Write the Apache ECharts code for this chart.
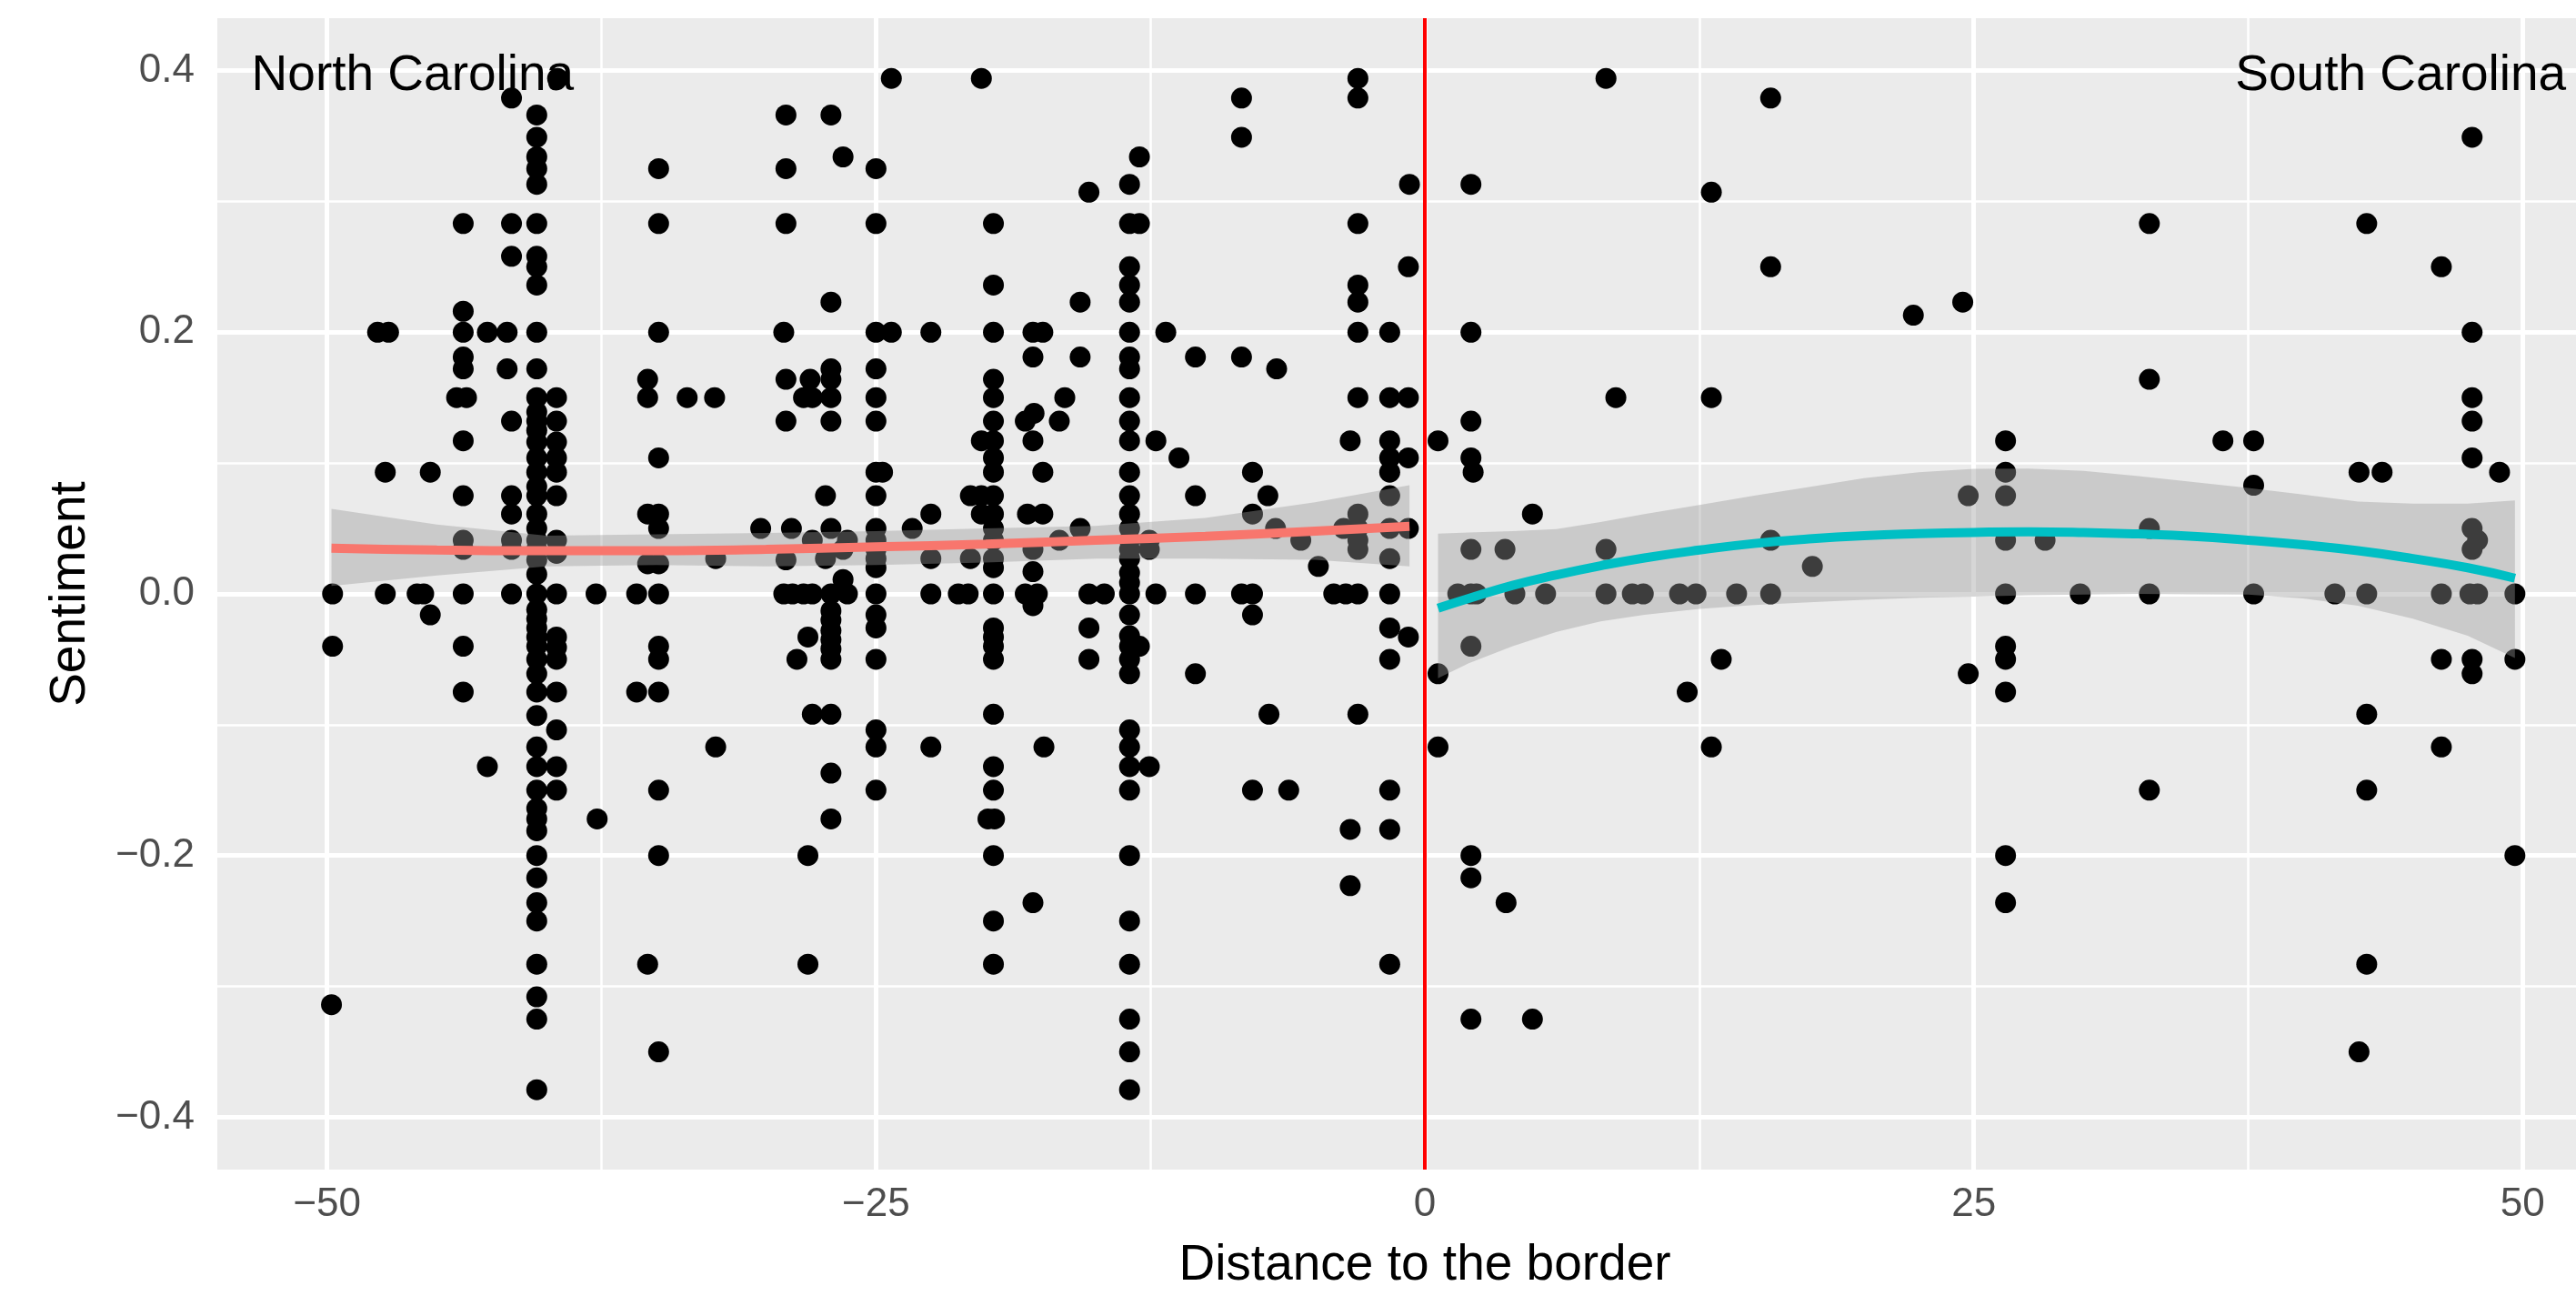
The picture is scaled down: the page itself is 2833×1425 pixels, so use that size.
<!DOCTYPE html>
<html>
<head>
<meta charset="utf-8">
<script src="https://cdn.jsdelivr.net/npm/echarts@6/dist/echarts.min.js"></script>
<style>
html,body{margin:0;padding:0;background:#fff;}
#chart{width:2833px;height:1425px;}
</style>
</head>
<body>
<div id="chart"></div>
<script>
// ---- axis ticks ----
const xMajor = [-50, -25, 0, 25, 50];
const xMinor = [-37.5, -12.5, 12.5, 37.5];
const yMajor = [-0.4, -0.2, 0, 0.2, 0.4];
const yMinor = [-0.3, -0.1, 0.1, 0.3];
const borderX = [0];

// ---- annotations ----
const annotations = [[-46.1, 0.4, 'North Carolina'], [44.45, 0.4, 'South Carolina']];

// ---- North Carolina observations (distance, sentiment) ----
const ncPoints = [
[-39.5,0.394],[-41.6,0.379],[-40.45,0.366],[-40.45,0.349],[-40.45,0.334],[-40.45,0.325],[-40.45,0.313],[-34.9,0.325],[-29.1,0.366],[-29.1,0.325],
[-43.8,0.283],[-41.6,0.283],[-40.45,0.283],[-34.9,0.283],[-29.1,0.283],[-41.6,0.258],[-40.45,0.258],[-40.45,0.25],[-40.45,0.236],[-43.8,0.216],
[-47.7,0.2],[-47.2,0.2],[-43.8,0.2],[-42.7,0.2],[-41.8,0.2],[-40.45,0.2],[-34.9,0.2],[-29.2,0.2],
[-43.8,0.181],[-43.8,0.172],[-41.8,0.172],[-40.45,0.172],[-35.4,0.164],[-29.1,0.164],[-28.0,0.164],
[-44.1,0.15],[-43.65,0.15],[-40.45,0.15],[-39.55,0.15],[-35.4,0.15],[-33.6,0.15],[-32.35,0.15],[-28.3,0.15],[-27.9,0.15],
[-41.6,0.132],[-40.45,0.139],[-40.45,0.132],[-40.45,0.125],[-40.45,0.116],[-40.45,0.104],[-40.45,0.093],[-40.45,0.082],[-40.45,0.075],[-40.45,0.061],[-40.45,0.05],[-40.45,0.041],[-40.45,0.034],[-40.45,0.026],[-40.45,0.015],
[-39.55,0.132],[-39.55,0.116],[-39.55,0.104],[-39.55,0.093],[-39.55,0.075],[-39.55,0.041],[-39.55,0.031],
[-43.8,0.117],[-29.1,0.132],[-34.9,0.104],[-47.35,0.093],[-45.3,0.093],[-43.8,0.075],[-41.6,0.075],[-41.6,0.061],[-43.8,0.041],[-43.8,0.034],[-41.6,0.041],[-41.6,0.034],
[-35.4,0.061],[-34.9,0.061],[-34.9,0.05],[-35.4,0.023],[-34.9,0.023],[-32.3,0.027],[-30.25,0.05],[-28.85,0.05],[-29.1,0.026],[-27.9,0.041],
[-49.75,0],[-47.35,0],[-45.9,0],[-45.6,0],[-43.8,0],[-41.6,0],[-40.45,0],[-39.55,0],[-37.75,0],[-35.9,0],[-34.9,0],[-29.2,0],[-28.8,0],[-28.3,0],[-27.9,0],
[-45.3,-0.016],[-40.45,-0.012],[-40.45,-0.019],[-40.45,-0.026],[-40.45,-0.033],[-40.45,-0.04],[-40.45,-0.05],[-39.55,-0.033],[-39.55,-0.041],[-39.55,-0.05],
[-49.75,-0.04],[-43.8,-0.04],[-34.9,-0.04],[-34.9,-0.05],[-28.6,-0.05],[-28.1,-0.033],[-40.45,-0.061],[-43.8,-0.075],[-40.45,-0.075],[-39.55,-0.075],[-35.9,-0.075],[-34.9,-0.075],
[-40.45,-0.093],[-39.55,-0.104],[-32.3,-0.117],[-40.45,-0.117],[-42.7,-0.132],[-40.45,-0.132],[-39.55,-0.132],[-40.45,-0.15],[-39.55,-0.15],[-34.9,-0.15],
[-40.45,-0.164],[-40.45,-0.172],[-40.45,-0.181],[-37.7,-0.172],[-40.45,-0.2],[-34.9,-0.2],[-40.45,-0.217],[-40.45,-0.236],[-40.45,-0.25],[-40.45,-0.283],[-35.4,-0.283],
[-49.8,-0.314],[-40.45,-0.308],[-40.45,-0.325],[-34.9,-0.35],[-40.45,-0.379],
[-24.3,0.394],[-20.2,0.394],[-27.05,0.366],[-26.5,0.334],[-25,0.325],[-8.35,0.379],[-8.35,0.349],[-3.05,0.394],[-3.05,0.379],[-13,0.334],[-13.45,0.313],[-15.3,0.307],[-0.7,0.313],
[-25,0.283],[-19.65,0.283],[-13.45,0.283],[-13,0.283],[-3.05,0.283],[-13.45,0.25],[-13.45,0.236],[-13.45,0.223],[-19.65,0.236],[-0.75,0.25],[-27.05,0.223],[-15.7,0.223],[-3.05,0.236],[-3.05,0.223],
[-25,0.2],[-24.3,0.2],[-22.5,0.2],[-19.65,0.2],[-17.85,0.2],[-17.4,0.2],[-13.45,0.2],[-11.8,0.2],[-3.05,0.2],[-1.6,0.2],
[-17.85,0.181],[-15.7,0.181],[-13.45,0.181],[-10.45,0.181],[-8.35,0.181],[-6.75,0.172],[-27.05,0.172],[-25,0.172],[-27.05,0.164],[-13.45,0.172],[-19.65,0.164],
[-27.05,0.15],[-25,0.15],[-19.65,0.15],[-16.4,0.15],[-13.45,0.15],[-3.05,0.15],[-1.6,0.15],[-0.75,0.15],
[-27.05,0.132],[-25,0.132],[-19.65,0.132],[-18.2,0.132],[-17.8,0.138],[-16.65,0.132],[-13.45,0.132],
[-20.2,0.117],[-19.65,0.117],[-17.85,0.117],[-13.45,0.117],[-12.25,0.117],[-11.2,0.104],[-3.4,0.117],[-1.6,0.117],[-1.6,0.104],[-0.75,0.104],[-1.6,0.093],[-19.65,0.104],
[-25,0.093],[-24.7,0.093],[-19.65,0.093],[-17.4,0.093],[-13.45,0.093],[-7.85,0.093],
[-27.3,0.075],[-25,0.075],[-20.7,0.075],[-20.2,0.075],[-19.65,0.075],[-13.45,0.075],[-10.45,0.075],[-7.15,0.075],[-1.6,0.075],
[-22.5,0.061],[-20.2,0.061],[-19.65,0.061],[-18.1,0.061],[-17.4,0.061],[-13.45,0.061],[-7.85,0.061],[-3.05,0.061],
[-27.05,0.05],[-25,0.05],[-23.35,0.05],[-19.65,0.05],[-15.7,0.05],[-13.45,0.05],[-6.8,0.05],[-3.7,0.05],[-3.05,0.05],[-1.6,0.05],[-0.75,0.05],
[-26.3,0.041],[-25,0.041],[-19.65,0.041],[-16.65,0.041],[-13.45,0.041],[-12.55,0.041],[-5.65,0.041],[-3.05,0.041],
[-26.5,0.034],[-25,0.034],[-17.85,0.034],[-13.45,0.034],[-12.55,0.034],[-3.05,0.034],
[-27.3,0.027],[-25,0.027],[-22.5,0.027],[-20.7,0.027],[-19.65,0.027],[-13.45,0.027],[-1.6,0.027],[-4.85,0.021],[-25,0.02],[-19.65,0.02],[-17.85,0.017],[-26.5,0.011],[-13.45,0.016],[-13.45,0.0085],
[-27.05,0],[-26.3,0],[-25,0],[-22.5,0],[-21.25,0],[-20.8,0],[-19.65,0],[-18.2,0],[-17.65,0],[-15.3,0],[-14.6,0],[-13.45,0],[-12.25,0],[-10.45,0],[-8.35,0],[-7.85,0],[-4.15,0],[-3.6,0],[-3.05,0],[-1.6,0],
[-17.85,-0.009],[-27.05,-0.013],[-27.05,-0.02],[-27.05,-0.028],[-27.05,-0.035],[-27.05,-0.042],[-27.05,-0.05],[-25,-0.016],[-25,-0.026],[-25,-0.05],
[-19.65,-0.026],[-19.65,-0.033],[-19.65,-0.04],[-19.65,-0.05],[-15.3,-0.026],[-15.3,-0.05],[-13.45,-0.016],[-13.45,-0.032],[-13.45,-0.04],[-13.45,-0.05],[-13,-0.04],[-13.45,-0.061],[-10.45,-0.061],
[-7.85,-0.016],[-1.6,-0.026],[-0.75,-0.033],[-1.6,-0.05],
[-27.9,-0.092],[-27.05,-0.092],[-19.65,-0.092],[-7.1,-0.092],[-3.05,-0.092],[-25,-0.104],[-25,-0.117],[-22.5,-0.117],[-17.35,-0.117],[-13.45,-0.104],[-13.45,-0.117],[-13.45,-0.132],[-12.55,-0.132],
[-27.05,-0.137],[-19.65,-0.132],[-25,-0.15],[-19.65,-0.15],[-13.45,-0.15],[-7.85,-0.15],[-6.2,-0.15],[-1.6,-0.15],
[-27.05,-0.172],[-19.9,-0.172],[-19.6,-0.172],[-3.4,-0.18],[-1.6,-0.18],[-28.1,-0.2],[-19.65,-0.2],[-13.45,-0.2],[-3.4,-0.223],[-17.85,-0.236],[-19.65,-0.25],[-13.45,-0.25],
[-28.1,-0.283],[-19.65,-0.283],[-13.45,-0.283],[-1.6,-0.283],[-13.45,-0.325],[-13.45,-0.35],[-13.45,-0.379]
];

// ---- South Carolina observations (distance, sentiment) ----
const scPoints = [
[8.25,0.394],[15.75,0.379],[2.1,0.313],[13.05,0.307],[15.75,0.25],[22.25,0.213],[24.5,0.223],[2.1,0.2],[8.7,0.15],[13.05,0.15],[2.1,0.132],[0.6,0.117],[2.1,0.104],[2.2,0.093],
[4.9,0.061],[24.75,0.075],[2.1,0.034],[3.65,0.034],[8.25,0.034],[15.75,0.041],[17.65,0.021],
[1.5,0],[2.1,0],[2.35,0],[4.1,0],[5.5,0],[8.25,0],[9.45,0],[9.95,0],[11.6,0],[12.35,0],[14.2,0],[15.75,0],
[2.1,-0.04],[0.6,-0.061],[13.5,-0.05],[11.95,-0.075],[24.75,-0.061],[0.6,-0.117],[13.05,-0.117],[2.1,-0.2],[2.1,-0.217],[3.7,-0.236],[2.1,-0.325],[4.9,-0.325],
[47.7,0.349],[33,0.283],[42.9,0.283],[46.3,0.25],[47.7,0.2],[33,0.164],[47.7,0.15],[47.7,0.132],[47.7,0.104],[48.95,0.093],[26.45,0.117],[36.35,0.117],[37.75,0.117],
[26.45,0.093],[26.45,0.075],[37.75,0.083],[42.55,0.093],[43.6,0.093],[33,0.05],[26.45,0.041],[28.25,0.041],[47.7,0.05],[47.95,0.041],[47.7,0.034],
[26.45,0],[29.85,0],[33,0],[37.75,0],[41.45,0],[42.9,0],[46.3,0],[47.6,0],[47.95,0],[49.65,0],
[26.45,-0.04],[26.45,-0.05],[26.45,-0.075],[46.3,-0.05],[47.7,-0.05],[47.7,-0.061],[49.65,-0.05],[42.9,-0.092],[46.3,-0.117],[33,-0.15],[42.9,-0.15],
[26.45,-0.2],[26.45,-0.236],[49.65,-0.2],[42.9,-0.283],[42.55,-0.35]
];

// ---- loess fits and confidence bands ----
const ncFitX  = [-49.8, -45, -40, -35, -30, -25, -20, -15, -10, -5, -0.7];
const ncFit   = [0.035, 0.0335, 0.033, 0.033, 0.034, 0.036, 0.038, 0.041, 0.044, 0.048, 0.0516];
const ncLow   = [0.006, 0.014, 0.021, 0.022, 0.021, 0.022, 0.024, 0.027, 0.027, 0.026, 0.021];
const ncHigh  = [0.065, 0.053, 0.0445, 0.0455, 0.0465, 0.048, 0.050, 0.052, 0.058, 0.070, 0.083];

const scFitX  = [0.6, 2, 4, 6, 8, 10, 12.5, 15, 17.5, 20, 22.5, 25, 27.5, 30, 32.5, 35, 37.5, 40, 42.5, 45, 47.5, 49.65];
const scFit   = [-0.011, -0.0035, 0.0065, 0.0145, 0.0215, 0.0275, 0.0335, 0.0385, 0.042, 0.0445, 0.046, 0.047, 0.0475, 0.047, 0.0458, 0.044, 0.041, 0.0375, 0.033, 0.027, 0.020, 0.012];
const scLow   = [-0.0645, -0.053, -0.040, -0.029, -0.021, -0.016, -0.0115, -0.0085, -0.0065, -0.0045, -0.003, -0.002, -0.001, -0.0005, 0, -0.0003, -0.0006, -0.0034, -0.009, -0.019, -0.032, -0.049];
const scHigh  = [0.046, 0.047, 0.048, 0.0496, 0.055, 0.061, 0.068, 0.075, 0.0817, 0.0885, 0.093, 0.0956, 0.0957, 0.094, 0.090, 0.0855, 0.081, 0.076, 0.0705, 0.069, 0.069, 0.0715];

// ---- build option ----
const FONT = 'Liberation Sans, Arial, Helvetica, sans-serif';
const zip = (xs, ys) => xs.map((x, i) => [x, ys[i]]);
const minus = s => String(s).replace('-', '\u2212');

function bandSeries(xs, lo, hi) {
  return {
    type: 'custom',
    z: 3,
    silent: true,
    clip: true,
    data: [[xs[0], lo[0]]],
    renderItem: function (params, api) {
      const pts = [];
      for (let i = 0; i < xs.length; i++) pts.push(api.coord([xs[i], hi[i]]));
      for (let i = xs.length - 1; i >= 0; i--) pts.push(api.coord([xs[i], lo[i]]));
      return { type: 'polygon', shape: { points: pts }, style: { fill: 'rgba(153,153,153,0.4)' } };
    }
  };
}

function fitSeries(xs, ys, color) {
  return {
    type: 'line', z: 4, silent: true, data: zip(xs, ys), smooth: 0.5,
    showSymbol: false, symbol: 'none', lineStyle: { color: color, width: 10 }, clip: true
  };
}

const gridLines = []
  .concat(xMajor.map(v => ({ xAxis: v, lineStyle: { width: 5 } })))
  .concat(xMinor.map(v => ({ xAxis: v, lineStyle: { width: 2.5 } })))
  .concat(yMajor.map(v => ({ yAxis: v, lineStyle: { width: 5 } })))
  .concat(yMinor.map(v => ({ yAxis: v, lineStyle: { width: 2.5 } })));

const option = {
  animation: false,
  backgroundColor: '#ffffff',
  grid: { left: 239, right: -62, top: 20, bottom: 139, show: true, backgroundColor: '#EBEBEB', borderWidth: 0,
          containLabel: false, outerBoundsMode: 'none' },
  xAxis: {
    type: 'value', min: -55, max: 55,
    axisLine: { show: false },
    splitLine: { show: false },
    axisTick: { show: true, customValues: xMajor, length: 13.5, lineStyle: { color: '#333333', width: 5 } },
    axisLabel: { customValues: xMajor, formatter: v => minus(v), fontSize: 44, color: '#4D4D4D', fontFamily: FONT, margin: 17 },
    name: 'Distance to the border', nameLocation: 'middle', nameGap: 78,
    nameTextStyle: { fontSize: 55, color: '#000000', fontFamily: FONT }
  },
  yAxis: {
    type: 'value', min: -0.44, max: 0.44,
    axisLine: { show: false },
    splitLine: { show: false },
    axisTick: { show: true, customValues: yMajor, length: 13.5, lineStyle: { color: '#333333', width: 5 } },
    axisLabel: { customValues: yMajor, formatter: v => minus(Number(v).toFixed(1)), fontSize: 44, color: '#4D4D4D', fontFamily: FONT, margin: 25 },
    name: 'Sentiment', nameLocation: 'middle', nameGap: 134, nameRotate: 90,
    nameTextStyle: { fontSize: 55, color: '#000000', fontFamily: FONT }
  },
  series: [
    {
      type: 'scatter', z: 1, silent: true, data: [], symbolSize: 0,
      markLine: { z: 1, silent: true, symbol: 'none', label: { show: false }, animation: false,
        lineStyle: { color: '#FFFFFF', type: 'solid', width: 5 }, emphasis: { disabled: true }, data: gridLines }
    },
    {
      type: 'scatter', z: 2, silent: true, data: ncPoints, symbol: 'circle', symbolSize: 23,
      itemStyle: { color: '#000000', opacity: 1 }
    },
    {
      type: 'scatter', z: 2, silent: true, data: scPoints, symbol: 'circle', symbolSize: 23,
      itemStyle: { color: '#000000', opacity: 1 }
    },
    bandSeries(ncFitX, ncLow, ncHigh),
    bandSeries(scFitX, scLow, scHigh),
    fitSeries(ncFitX, ncFit, '#F8766D'),
    fitSeries(scFitX, scFit, '#00BFC4'),
    {
      type: 'scatter', z: 5, silent: true, data: [], symbolSize: 0,
      markLine: { z: 6, silent: true, symbol: 'none', label: { show: false }, animation: false,
        lineStyle: { color: '#FF0000', type: 'solid', width: 4 }, emphasis: { disabled: true },
        data: borderX.map(v => ({ xAxis: v })) }
    },
    {
      type: 'scatter', z: 7, silent: true, data: annotations, symbolSize: 0.01,
      itemStyle: { color: '#000000', opacity: 1 },
      label: { show: true, position: 'inside', offset: [0, 6], formatter: p => p.data[2], fontSize: 55, color: '#000000',
               textBorderWidth: 0, opacity: 1, fontFamily: FONT }
    }
  ]
};

const chart = echarts.init(document.getElementById('chart'), null, { renderer: 'canvas', width: 2833, height: 1425 });
chart.setOption(option);
</script>
</body>
</html>
